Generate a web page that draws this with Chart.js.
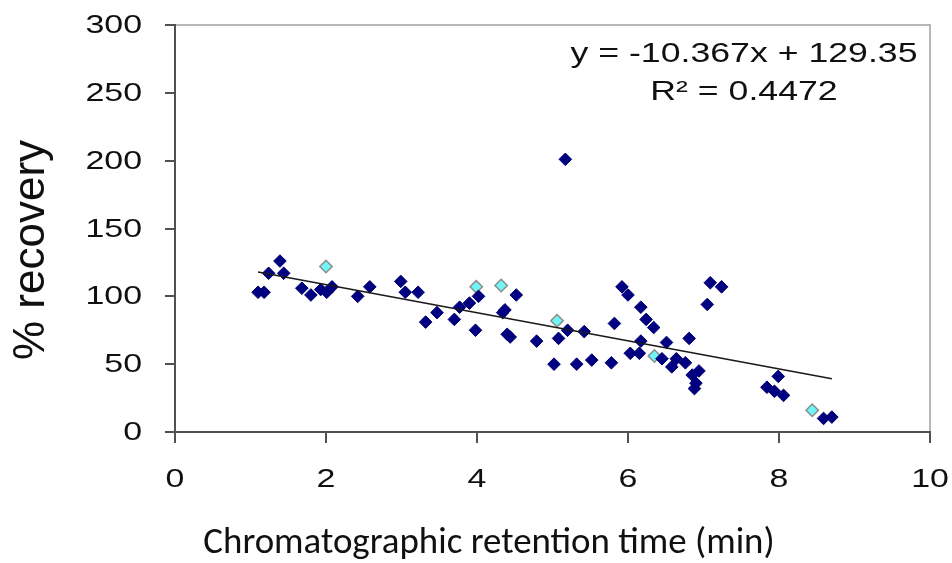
<!DOCTYPE html>
<html>
<head>
<meta charset="utf-8">
<script src="https://cdn.jsdelivr.net/npm/chart.js@4/dist/chart.umd.min.js"></script>
<style>
    html, body { margin: 0; padding: 0; background: #fff; }
    #wrap { width: 952px; height: 563px; }
</style>
</head>
<body>
<div id="wrap"><canvas id="recoveryChart"></canvas></div>
<script>
// retention time (min) vs % recovery
var darkX = [1.10, 1.18, 1.24, 1.39, 1.44, 1.68, 1.80, 1.93, 2.01, 2.08, 2.42, 2.58, 2.99, 3.05, 3.22, 3.32,
    3.47, 3.70, 3.77, 3.90, 3.98, 4.02, 4.34, 4.37, 4.40, 4.44, 4.52, 4.79, 5.02, 5.08, 5.17, 5.20,
    5.32, 5.42, 5.52, 5.78, 5.82, 5.92, 6.00, 6.03, 6.15, 6.17, 6.17, 6.24, 6.34, 6.45, 6.51, 6.58,
    6.64, 6.76, 6.81, 6.85, 6.88, 6.90, 6.94, 7.05, 7.09, 7.24, 7.84, 7.94, 7.99, 8.06, 8.59, 8.70];
var darkY = [103, 103, 117, 126, 117, 106, 101, 105, 103, 107, 100, 107, 111, 103, 103, 81,
    88, 83, 92, 95, 75, 100, 88, 90, 72, 70, 101, 67, 50, 69, 201, 75,
    50, 74, 53, 51, 80, 107, 101, 58, 58, 92, 67, 83, 77, 54, 66, 48,
    54, 51, 69, 42, 32, 36, 45, 94, 110, 107, 33, 30, 41, 27, 10, 11];
var cyanX = [2.00, 3.99, 4.32, 5.06, 6.35, 8.44];
var cyanY = [122, 107, 108, 82, 56, 16];
var trendX = [1.10, 8.70];
var trendY = [117.9, 39.2];
var xTicks = [0, 2, 4, 6, 8, 10];
var yTicks = [0, 50, 100, 150, 200, 250, 300];
var xTitle = 'Chromatographic retention time (min)';
var yTitle = '% recovery';
var eqLines = ['y = -10.367x + 129.35', 'R² = 0.4472'];

function toPoints(xs, ys) {
    return xs.map(function (x, i) { return { x: x, y: ys[i] }; });
}

// text in the original is stretched sideways, so draw it with a horizontal scale
function drawStretched(ctx, text, x, y, sx, align) {
    ctx.save();
    ctx.translate(x, y);
    ctx.scale(sx, 1);
    ctx.textAlign = align;
    ctx.fillText(text, 0, 0);
    ctx.restore();
}

var decorations = {
    id: 'decorations',
    beforeDraw: function (chart) {
        var a = chart.chartArea, ctx = chart.ctx;
        ctx.save();
        ctx.fillStyle = '#fff';
        ctx.fillRect(0, 0, chart.width, chart.height);
        ctx.strokeStyle = '#a0a0a0';
        ctx.lineWidth = 1.5;
        ctx.strokeRect(a.left, a.top, a.right - a.left, a.bottom - a.top);
        ctx.restore();
    },
    afterDraw: function (chart) {
        var ctx = chart.ctx, a = chart.chartArea;
        var xs = chart.scales.x, ys = chart.scales.y;
        ctx.save();
        ctx.fillStyle = '#101010';

        // tick labels
        ctx.font = '25.5px "Liberation Sans", Arial, sans-serif';
        ctx.textBaseline = 'middle';
        yTicks.forEach(function (v) {
            drawStretched(ctx, String(v), a.left - 33, ys.getPixelForValue(v) + 1, 1.33, 'right');
        });
        xTicks.forEach(function (v) {
            drawStretched(ctx, String(v), xs.getPixelForValue(v), a.bottom + 48, 1.33, 'center');
        });

        // trendline equation
        ctx.textBaseline = 'alphabetic';
        ctx.font = '28px "Liberation Sans", Arial, sans-serif';
        var sx = 347 / ctx.measureText(eqLines[0]).width;
        drawStretched(ctx, eqLines[0], 744, 62, sx, 'center');
        drawStretched(ctx, eqLines[1], 744, 100, sx, 'center');

        // y title
        ctx.font = '44px "Liberation Sans", Arial, sans-serif';
        ctx.save();
        ctx.translate(43.5, 250);
        ctx.rotate(-Math.PI / 2);
        ctx.textAlign = 'center';
        ctx.fillText(yTitle, 0, 0);
        ctx.restore();

        // x title, sized to the original width
        ctx.font = '32px Carlito, Lato, sans-serif';
        var size = 32 * 572 / ctx.measureText(xTitle).width;
        ctx.font = size.toFixed(1) + 'px Carlito, Lato, sans-serif';
        ctx.textAlign = 'center';
        ctx.fillText(xTitle, 489, 553);
        ctx.restore();
    }
};

var ctx = document.getElementById('recoveryChart').getContext('2d');
var chart = new Chart(ctx, {
    type: 'scatter',
    data: {
        datasets: [{
            type: 'line',
            data: toPoints(trendX, trendY),
            borderColor: '#1a1a1a',
            borderWidth: 1.6,
            pointRadius: 0,
            fill: false,
            order: 0
        }, {
            data: toPoints(darkX, darkY),
            pointStyle: 'rectRot',
            pointRadius: 6.3,
            backgroundColor: '#000080',
            borderColor: '#000070',
            borderWidth: 1,
            order: 1
        }, {
            data: toPoints(cyanX, cyanY),
            pointStyle: 'rectRot',
            pointRadius: 6.2,
            backgroundColor: '#6ff5f5',
            borderColor: '#8c8c8c',
            borderWidth: 1.5,
            order: 2
        }]
    },
    options: {
        responsive: true,
        maintainAspectRatio: false,
        animation: false,
        layout: { padding: { left: 0, top: 25, right: 22, bottom: 0 } },
        plugins: {
            legend: { display: false },
            tooltip: { enabled: false }
        },
        scales: {
            x: {
                type: 'linear',
                min: 0,
                max: 10,
                afterBuildTicks: function (scale) {
                    scale.ticks = xTicks.map(function (v) { return { value: v }; });
                },
                afterFit: function (scale) { scale.height = 131; },
                ticks: { display: false },
                grid: { drawOnChartArea: false, drawTicks: true, tickLength: 11, color: '#505050', lineWidth: 2 },
                border: { display: true, color: '#505050', width: 2 }
            },
            y: {
                type: 'linear',
                min: 0,
                max: 300,
                afterBuildTicks: function (scale) {
                    scale.ticks = yTicks.map(function (v) { return { value: v }; });
                },
                afterFit: function (scale) { scale.width = 175; },
                ticks: { display: false },
                grid: { drawOnChartArea: false, drawTicks: true, tickLength: 10, color: '#505050', lineWidth: 2 },
                border: { display: true, color: '#505050', width: 2 }
            }
        }
    },
    plugins: [decorations]
});
</script>
</body>
</html>
